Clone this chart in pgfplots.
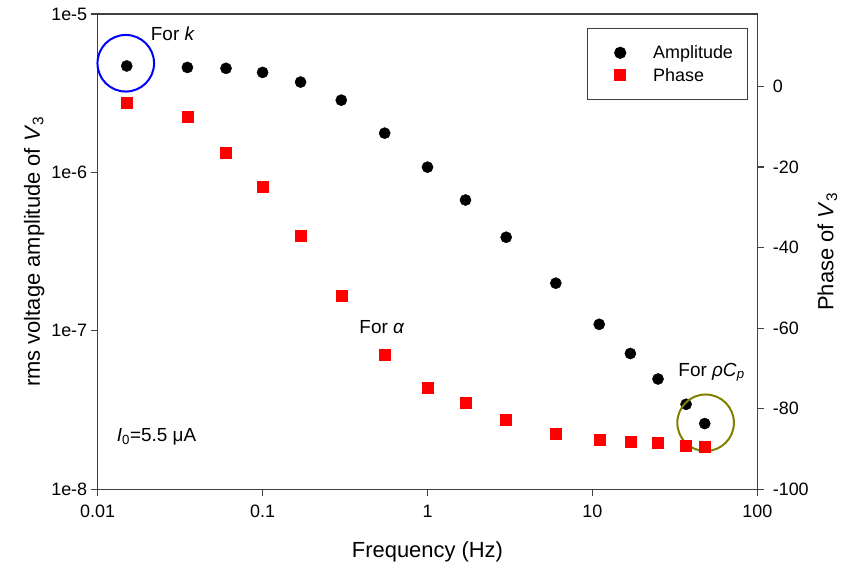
\documentclass[border=0pt]{standalone}
\usepackage{pgfplots}
\pgfplotsset{compat=1.18}
\usepackage{fontspec}
\setmainfont{Liberation Sans}
\definecolor{axgray}{HTML}{404040}
\definecolor{ringolive}{HTML}{808000}

\pgfplotsset{
  every axis/.append style={
    scale only axis,
    width=659.6bp, height=475.3bp,
    xmode=log, xmin=0.01, xmax=100,
    axis line style={draw=axgray, line width=1.2bp},
    tick style={draw=axgray, line width=1.2bp},
    tick align=outside,
    major tick length=7bp,
    xminorticks=false, yminorticks=false,
    ticklabel style={font=\fontsize{18}{21}\selectfont},
    label style={font=\fontsize{22}{26}\selectfont},
    clip=false,
  }
}

\begin{document}
\begin{tikzpicture}

% left axis: amplitude
\begin{axis}[
  name=ax,
  ymode=log, ymin=1e-8, ymax=1e-5,
  xtick pos=left, ytick pos=left,
  xtick={0.01,0.1,1,10,100},
  xticklabels={0.01,0.1,1,10,100},
  ytick={1e-8,1e-7,1e-6,1e-5},
  yticklabels={1e-8,1e-7,1e-6,1e-5},
  xticklabel style={yshift=-5bp},
  xlabel={Frequency (Hz)},
  xlabel style={yshift=-17bp},
  ylabel={rms voltage amplitude of \textit{V}\textsubscript{3}},
  legend cell align=left,
  legend image code/.code={
    \path[draw=none, fill=none] (0bp,-1bp) rectangle (51bp,1bp);
    \path[#1, draw=none] plot coordinates {(24bp,0bp)};
  },
  legend style={at={(0.7414,0.9705)}, anchor=north west,
    draw=axgray, line width=1bp, font=\fontsize{18}{21}\selectfont,
    inner xsep=9bp, inner ysep=16bp, row sep=6bp,
    nodes={inner ysep=1bp, inner xsep=6bp}},
]
\addplot[only marks, mark=*, mark size=5.6bp, black] coordinates {
  (0.015,4.7e-6) (0.035,4.6e-6) (0.06,4.54e-6) (0.1,4.28e-6)
  (0.17,3.72e-6) (0.3,2.86e-6) (0.55,1.77e-6) (1,1.08e-6)
  (1.7,6.7e-7) (3,3.9e-7) (6,2.0e-7) (11,1.1e-7)
  (17,7.2e-8) (25,4.97e-8) (37,3.44e-8) (48,2.6e-8)
};
\addlegendentry{Amplitude}
\addlegendimage{only marks, mark=square*, mark size=5.5bp, red}
\addlegendentry{Phase}
% highlight rings
\addplot[only marks, mark=o, mark size=28.3bp, blue, line width=2bp, forget plot]
  coordinates {(0.0148,4.89e-6)};
\addplot[only marks, mark=o, mark size=28.3bp, ringolive, line width=2bp, forget plot]
  coordinates {(48.6,2.63e-8)};
\node[anchor=base west, inner sep=0pt, font=\fontsize{19}{22}\selectfont]
  at (rel axis cs:0.0804,0.9438) {For \textit{k}};
\node[anchor=base west, inner sep=0pt, font=\fontsize{19}{22}\selectfont]
  at (rel axis cs:0.3966,0.3282) {For \textit{α}};
\node[anchor=base west, inner sep=0pt, font=\fontsize{19}{22}\selectfont]
  at (rel axis cs:0.8802,0.2383) {For \textit{ρC}\textsubscript{\textit{p}}};
\node[anchor=base west, inner sep=0pt, font=\fontsize{19}{22}\selectfont]
  at (rel axis cs:0.0288,0.1015) {\textit{I}\textsubscript{0}=5.5 μA};
\end{axis}

% right axis: phase
\begin{axis}[
  ymin=-100, ymax=18,
  axis x line=none,
  axis y line*=right,
  ytick={-100,-80,-60,-40,-20,0},
  yticklabels={-100,-80,-60,-40,-20,0},
  yticklabel style={xshift=5bp},
  ylabel={Phase of \textit{V}\textsubscript{3}},
  ylabel style={yshift=-2bp},
]
\addplot[only marks, mark=square*, mark size=5.5bp, red] coordinates {
  (0.015,-4.1) (0.035,-7.6) (0.06,-16.5) (0.1,-24.8)
  (0.17,-37.0) (0.3,-51.9) (0.55,-66.7) (1,-74.9)
  (1.7,-78.4) (3,-82.8) (6,-86.2) (11,-87.6)
  (17,-88.2) (25,-88.4) (37,-89.2) (48,-89.4)
};
\end{axis}

\pgfresetboundingbox
\path (ax.south west) ++(-97.7bp,-83.7bp) rectangle ++(846bp,573bp);
\end{tikzpicture}
\end{document}
